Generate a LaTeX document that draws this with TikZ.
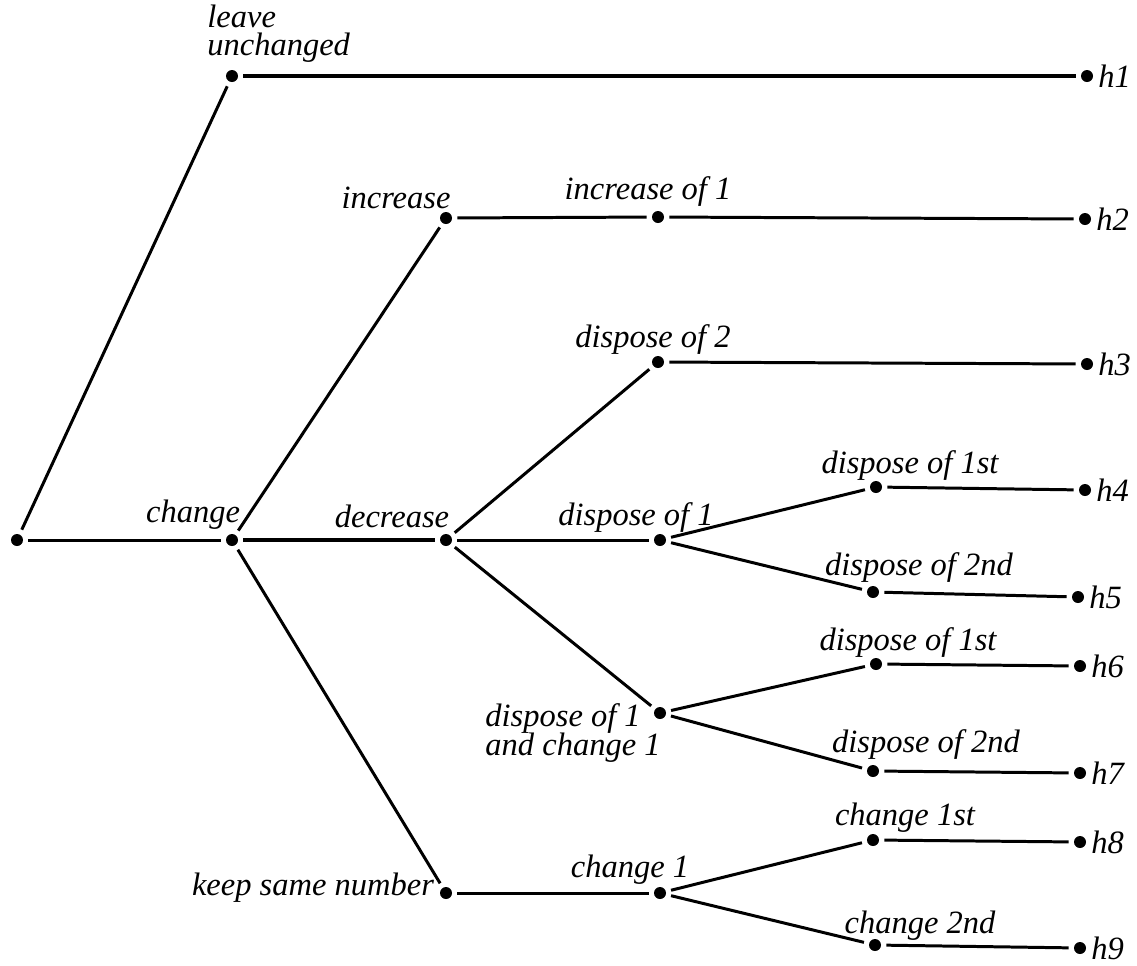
\documentclass[tikz,border=0pt]{standalone}
\usepackage{fontspec}
\setmainfont{Liberation Serif}
\tikzset{
	dot/.style={circle, fill=black, inner sep=0pt, minimum size=0.24cm},
	txt/.style={font=\fontsize{18.5}{21}\selectfont\itshape, inner sep=0pt},
	edge/.style={line width=1.7pt, shorten <=0.1cm, shorten >=0.1cm},
	boldedge/.style={edge, line width=2.8pt},
}
\begin{document}
\begin{tikzpicture}[x=0.02cm, y=-0.02cm]
	\useasboundingbox (0,0) rectangle (1137,965);
	% dots
	\node [dot] (root) at (17,540) {};
	\node [dot] (leave) at (232,76) {};
	\node [dot] (change) at (232,540) {};
	\node [dot] (inc) at (446,218) {};
	\node [dot] (inc1) at (658,217) {};
	\node [dot] (dec) at (446,540) {};
	\node [dot] (disp2) at (658,362) {};
	\node [dot] (disp1) at (660,540) {};
	\node [dot] (dispa) at (876,487) {};
	\node [dot] (dispb) at (873,592) {};
	\node [dot] (dispch) at (660,713) {};
	\node [dot] (dispc) at (876,664) {};
	\node [dot] (dispd) at (873,771) {};
	\node [dot] (keep) at (446,893) {};
	\node [dot] (ch1) at (660,893) {};
	\node [dot] (cha) at (873,840) {};
	\node [dot] (chb) at (875,945) {};
	\node [dot] (h1) at (1087,76) {};
	\node [dot] (h2) at (1085,219) {};
	\node [dot] (h3) at (1087,364) {};
	\node [dot] (h4) at (1085,490) {};
	\node [dot] (h5) at (1078,597) {};
	\node [dot] (h6) at (1080,666) {};
	\node [dot] (h7) at (1080,773) {};
	\node [dot] (h8) at (1080,842) {};
	\node [dot] (h9) at (1080,948) {};
	% labels
	\node [txt, align=left, anchor=south west] (lleave) at (207,63) {leave\\[-5pt]unchanged};
	\node [txt] (lchange) at (193,515) {change};
	\node [txt] (linc) at (396,198) {increase};
	\node [txt] (linc1) at (648,192) {increase of 1};
	\node [txt] (ldec) at (392,516) {decrease};
	\node [txt] (ldisp2) at (653,340) {dispose of 2};
	\node [txt] (ldisp1) at (636,518) {dispose of 1};
	\node [txt] (ldispa) at (910,466) {dispose of 1st};
	\node [txt] (ldispb) at (919,568) {dispose of 2nd};
	\node [txt, align=left] (ldispch) at (573,733) {dispose of 1\\[-5pt]and change 1};
	\node [txt] (ldispc) at (908,643) {dispose of 1st};
	\node [txt] (ldispd) at (926,745) {dispose of 2nd};
	\node [txt] (lkeep) at (313,888) {keep same number};
	\node [txt] (lch1) at (630,870) {change 1};
	\node [txt] (lcha) at (905,818) {change 1st};
	\node [txt] (lchb) at (920,926) {change 2nd};
	\foreach \h in {1,...,9}
		\node [txt, anchor=west] (l\h) at ([xshift=0.22cm]h\h.center) {h\h};
	% edges
	\draw [edge] (root) -- (leave);
	\draw [edge] (root) -- (change);
	\draw [boldedge] (leave) -- (h1);
	\draw [edge] (change) -- (inc);
	\draw [edge, line width=2.3pt] (change) -- (dec);
	\draw [edge] (change) -- (keep);
	\draw [edge] (inc) -- (inc1);
	\draw [edge] (inc1) -- (h2);
	\draw [edge] (dec) -- (disp2);
	\draw [edge] (dec) -- (disp1);
	\draw [edge] (dec) -- (dispch);
	\draw [edge] (disp2) -- (h3);
	\draw [edge] (disp1) -- (dispa);
	\draw [edge] (disp1) -- (dispb);
	\draw [edge] (dispa) -- (h4);
	\draw [edge] (dispb) -- (h5);
	\draw [edge] (dispch) -- (dispc);
	\draw [edge] (dispch) -- (dispd);
	\draw [edge] (dispc) -- (h6);
	\draw [edge] (dispd) -- (h7);
	\draw [edge] (keep) -- (ch1);
	\draw [edge] (ch1) -- (cha);
	\draw [edge] (ch1) -- (chb);
	\draw [edge] (cha) -- (h8);
	\draw [edge] (chb) -- (h9);
\end{tikzpicture}
\end{document}
